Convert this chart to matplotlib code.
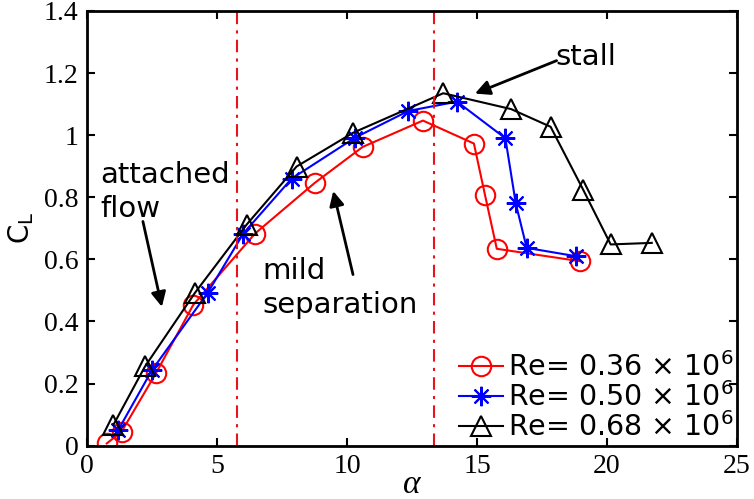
import matplotlib
matplotlib.use("Agg")
import matplotlib.pyplot as plt
from matplotlib.ticker import FixedLocator

# Data
alpha_036 = [0.76, 1.33, 2.65, 4.09, 6.46, 8.77, 10.60, 12.92, 14.88, 15.31, 15.76, 18.96]
cl_036 = [0.007, 0.045, 0.233, 0.454, 0.683, 0.847, 0.962, 1.047, 0.973, 0.806, 0.634, 0.594]
alpha_050 = [1.20, 2.49, 4.64, 6.01, 7.87, 10.31, 12.36, 14.23, 16.09, 16.49, 16.91, 18.81]
cl_050 = [0.050, 0.242, 0.492, 0.683, 0.860, 0.992, 1.078, 1.108, 0.990, 0.780, 0.637, 0.610]
alpha_068 = [1.01, 2.23, 4.15, 6.14, 8.06, 10.24, 13.70, 16.31, 17.83, 19.09, 20.14, 21.72]
cl_068 = [0.066, 0.255, 0.492, 0.712, 0.899, 1.008, 1.135, 1.084, 1.027, 0.823, 0.648, 0.653]
labels = [r'Re= 0.36 × 10$^{6}$', r'Re= 0.50 × 10$^{6}$', r'Re= 0.68 × 10$^{6}$']
region_bounds = [5.75, 13.35]
xticks = [0, 5, 10, 15, 20, 25]
yticks = [0, 0.2, 0.4, 0.6, 0.8, 1.0, 1.2, 1.4]
yticklabels = ['0', '0.2', '0.4', '0.6', '0.8', '1', '1.2', '1.4']

fig = plt.figure(figsize=(7.54, 4.99), dpi=100)
ax = fig.add_axes([0.1154, 0.107, 0.8621, 0.871])

ms = 14
ax.plot(alpha_036, cl_036, '-', color='red', lw=1.5, marker='o', ms=ms,
        mfc='none', mec='red', mew=1.5, label=labels[0])
ax.plot(alpha_050, cl_050, '-', color='blue', lw=1.5, marker=(8, 2, 0), ms=ms,
        mfc='none', mec='blue', mew=1.5, label=labels[1])
ax.plot(alpha_068, cl_068, '-', color='black', lw=1.5, marker='^', ms=ms,
        mfc='none', mec='black', mew=1.5, label=labels[2])

for xb in region_bounds:
    ax.axvline(xb, color='#e8141c', lw=1.5, ls='-.', dashes=(6, 3, 1.5, 3))

ax.set_xlim(0, 25)
ax.set_ylim(0, 1.4)
ax.xaxis.set_major_locator(FixedLocator(xticks))
ax.set_yticks(yticks)
ax.set_yticklabels(yticklabels)
ax.tick_params(direction='in', length=6, width=1.5, top=True, right=True,
               labelsize=20, pad=6)
for lab in ax.get_xticklabels() + ax.get_yticklabels():
    lab.set_fontfamily('Liberation Serif')
for s in ax.spines.values():
    s.set_linewidth(2)

ax.set_xlabel('α', fontfamily='Liberation Serif', style='italic', fontsize=24, labelpad=-7)
ax.set_ylabel(r'C$_{\mathrm{L}}$', fontsize=20, labelpad=6)

tfs = 21
ax.text(0.5, 0.735, 'attached\nflow', fontsize=tfs, ha='left', va='baseline', linespacing=1.28)
ax.text(6.75, 0.428, 'mild\nseparation', fontsize=tfs, ha='left', va='baseline', linespacing=1.28)
ax.text(18.0, 1.226, 'stall', fontsize=tfs, ha='left', va='baseline')

ap = dict(arrowstyle='-|>', color='black', lw=2, mutation_scale=22, shrinkA=0, shrinkB=0)
ax.annotate('', xy=(2.88, 0.447), xytext=(2.15, 0.722), arrowprops=ap)
ax.annotate('', xy=(9.47, 0.820), xytext=(10.23, 0.551), arrowprops=ap)
ax.annotate('', xy=(14.92, 1.134), xytext=(18.06, 1.240), arrowprops=ap)

leg = ax.legend(loc='lower right', bbox_to_anchor=(1.025, -0.037), frameon=False,
                fontsize=20.5, handlelength=1.55, handletextpad=0.15,
                labelspacing=0.0, borderpad=0.2)

fig.savefig('out.png', dpi=100)
